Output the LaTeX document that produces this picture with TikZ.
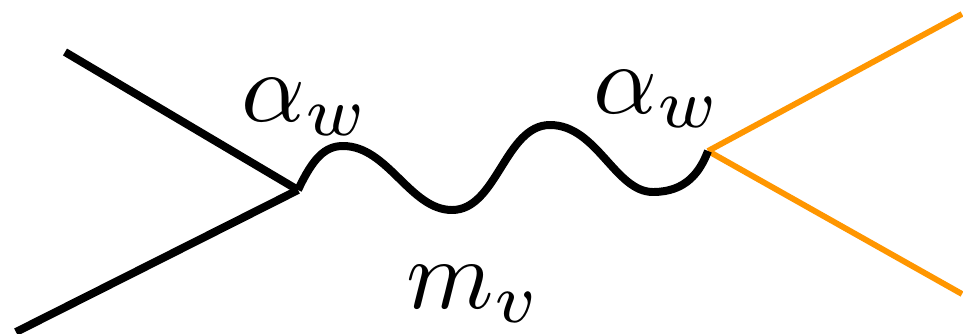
\documentclass[tikz,border=0pt]{standalone}
\usepackage{graphicx}
\usepackage{xcolor}
\definecolor{fermorange}{RGB}{255,150,0}
\newcommand{\biglbl}[1]{\scalebox{8.5}{$#1$}}
\begin{document}
\begin{tikzpicture}[x=0.03cm,y=-0.03cm,
  blackline/.style={line width=6.8pt,black},
  orangeline/.style={line width=5pt,fermorange},
  lbl/.style={anchor=base,inner sep=0pt}]
\useasboundingbox (0,0) rectangle (963,333);
\coordinate (v1) at (298,190);
\coordinate (v2) at (708,151);
\coordinate (a) at (65,52);
\coordinate (b) at (16,332);
\coordinate (c) at (962,14);
\coordinate (d) at (962,294);
\draw[blackline] (a) -- (v1);
\draw[blackline] (b) -- (v1);
\draw[orangeline] (v2) -- (c);
\draw[orangeline] (v2) -- (d);
\draw[blackline,line join=round] (v1) .. controls (313,158) and (325,146) .. (343,146)
  .. controls (388,146) and (410,210) .. (452,210)
  .. controls (497,210) and (505,125) .. (550,125)
  .. controls (597,125) and (615,192) .. (653,192)
  .. controls (686,192) and (700,172) .. (v2);
\node[lbl] (l1) at (306,121) {\biglbl{\alpha_w}};
\node[lbl] (l2) at (658,113) {\biglbl{\alpha_w}};
\node[lbl] (l3) at (474,308) {\biglbl{m_v}};
\end{tikzpicture}
\end{document}
